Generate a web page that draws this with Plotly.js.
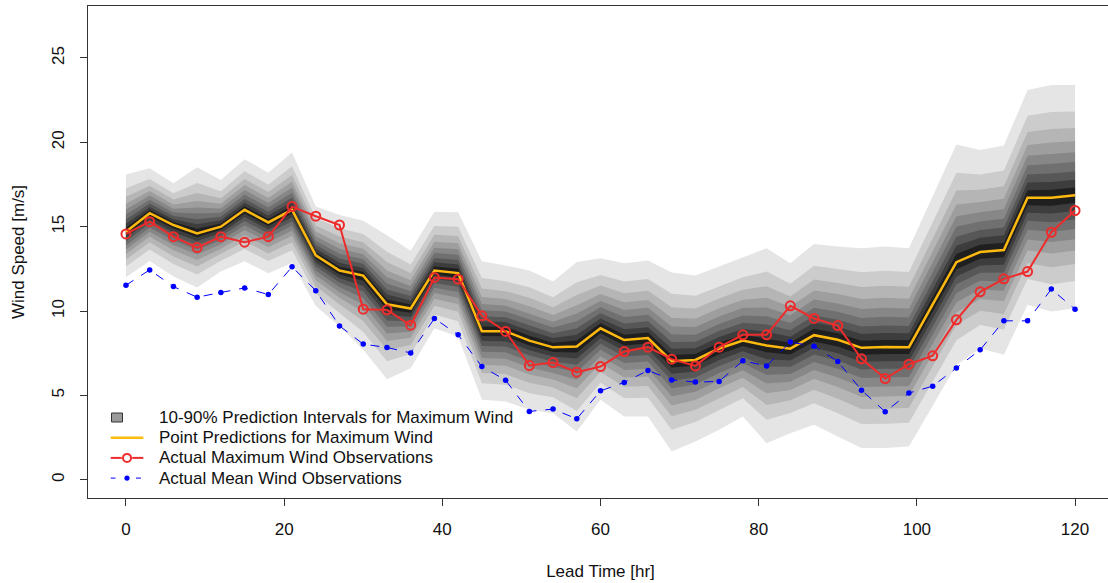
<!DOCTYPE html>
<html><head><meta charset="utf-8">
<script src="https://cdn.plot.ly/plotly-3.0.1.min.js"></script>
<style>html,body{margin:0;padding:0;overflow:hidden;background:#fff}#chart{width:1114px;height:583px}</style>
</head><body><div id="chart"></div>
<script>
// Lead time [hr]
const leadTime = [0,3,6,9,12,15,18,21,24,27,30,33,36,39,42,45,48,51,54,57,60,63,66,69,72,75,78,81,84,87,90,93,96,99,102,105,108,111,114,117,120];
// Point predictions for maximum wind [m/s]
const pointPred = [14.7,15.8,15.1,14.6,15.0,16.0,15.25,16.0,13.3,12.4,12.1,10.4,10.15,12.4,12.25,8.8,8.8,8.25,7.85,7.9,8.98,8.28,8.4,7.03,7.1,7.78,8.25,7.96,7.77,8.57,8.3,7.82,7.87,7.86,10.4,12.9,13.5,13.62,16.72,16.72,16.87];
// 90% quantile (upper edge of prediction interval)
const q90 = [18.1,18.47,17.58,18.53,17.77,19.0,18.2,19.39,16.2,15.7,15.35,14.5,13.58,15.88,15.86,12.95,12.7,12.4,11.75,12.9,13.13,12.84,13.0,12.28,12.1,12.64,13.19,13.72,12.84,13.98,13.82,13.72,13.82,13.72,16.8,19.87,19.55,19.81,23.1,23.4,23.4];
// 10% quantile (lower edge of prediction interval)
const q10 = [12.0,12.97,12.05,11.4,12.34,12.95,12.24,12.85,10.3,9.1,7.7,5.96,6.61,8.98,8.49,4.74,4.64,4.15,3.95,2.86,4.74,3.75,3.75,1.68,2.27,2.96,3.75,2.17,2.76,3.26,2.57,1.88,1.88,1.97,4.4,6.81,7.8,7.41,10.37,9.97,10.17];
// Actual maximum wind observations
const maxObs = [14.57,15.3,14.41,13.76,14.41,14.08,14.41,16.19,15.62,15.1,10.11,10.07,9.16,11.99,11.89,9.72,8.79,6.77,6.95,6.38,6.71,7.6,7.86,7.15,6.75,7.86,8.59,8.59,10.31,9.56,9.14,7.17,6.0,6.85,7.35,9.48,11.14,11.91,12.34,14.67,15.96];
// Actual mean wind observations
const meanObs = [11.53,12.44,11.45,10.82,11.1,11.37,10.98,12.62,11.21,9.12,8.04,7.84,7.52,9.56,8.59,6.71,5.9,4.05,4.19,3.61,5.27,5.77,6.48,5.92,5.79,5.83,7.05,6.75,8.16,7.92,7.01,5.31,4.03,5.14,5.55,6.62,7.7,9.42,9.42,11.3,10.11];
// relative position of each nested interval edge (outer = 10-90%), read from the shading
const bandLevels = [1, 0.76, 0.61, 0.49, 0.39, 0.30, 0.215, 0.14, 0.07];
const bandColors = ['#e5e5e5','#cccccc','#b5b5b5','#9e9e9e','#878787','#707070','#575757','#3d3d3d','#1f1f1f'];
// legend labels
const legendLabels = ['10-90% Prediction Intervals for Maximum Wind','Point Predictions for Maximum Wind','Actual Maximum Wind Observations','Actual Mean Wind Observations'];

const FONT = 'Liberation Sans, Arial, Helvetica, sans-serif';
const FS = 17;
const TXT = '#111111';
const W = 1114, H = 583, ML = 88, MR = 1, MT = 6, MB = 85;
const PW = W - ML - MR, PH = H - MT - MB;
const px = v => (v - ML) / PW;           // pixel -> paper x
const py = v => (H - MB - v) / PH;        // pixel -> paper y

const RED = '#EE2C2C', ORANGE = '#FFB90F', BLUE = '#0000FF';

const traces = [];
const xPoly = leadTime.concat(leadTime.slice().reverse());
bandLevels.forEach((lv, k) => {
  const up = pointPred.map((p, i) => p + lv * (q90[i] - p));
  const lo = pointPred.map((p, i) => p - lv * (p - q10[i]));
  traces.push({
    x: xPoly, y: up.concat(lo.slice().reverse()),
    type: 'scatter', mode: 'lines', fill: 'toself',
    fillcolor: bandColors[k], line: {width: 0, color: bandColors[k]},
    hoverinfo: 'skip', showlegend: false, name: 'band' + k
  });
});
traces.push({
  x: leadTime, y: pointPred, type: 'scatter', mode: 'lines',
  name: legendLabels[1], showlegend: false,
  line: {color: ORANGE, width: 2.5}
});
traces.push({
  x: leadTime, y: maxObs, type: 'scatter', mode: 'lines+markers',
  name: legendLabels[2], showlegend: false,
  line: {color: RED, width: 2},
  marker: {symbol: 'circle-open', size: 9, color: RED, line: {width: 2, color: RED}}
});
traces.push({
  x: leadTime, y: meanObs, type: 'scatter', mode: 'lines+markers',
  name: legendLabels[3], showlegend: false,
  line: {color: BLUE, width: 1, dash: 'dash'},
  marker: {symbol: 'circle', size: 5.5, color: BLUE}
});

// hand-drawn legend (R style) in the lower-left corner
const rowY = [417.5, 437.7, 457.9, 478.1];
const shapes = [];
const annotations = [];
const ln = (x0, x1, y, color, width, dash) => shapes.push({type: 'line', xref: 'paper', yref: 'paper',
  x0: px(x0), x1: px(x1), y0: py(y), y1: py(y), line: {color, width, dash: dash || 'solid'}});
const circ = (cx, cy, r, lineColor, lw, fill) => shapes.push({type: 'circle', xref: 'paper', yref: 'paper',
  x0: px(cx - r), x1: px(cx + r), y0: py(cy + r), y1: py(cy - r),
  line: {color: lineColor, width: lw}, fillcolor: fill});
shapes.push({type: 'rect', xref: 'paper', yref: 'paper',
  x0: px(111.5), x1: px(122.5), y0: py(rowY[0] + 4.5), y1: py(rowY[0] - 4.5),
  line: {color: '#333333', width: 1}, fillcolor: '#9a9a9a'});
ln(110.7, 143.3, rowY[1], ORANGE, 2.5);
ln(110.7, 121.8, rowY[2], RED, 2);
ln(132.2, 143.3, rowY[2], RED, 2);
circ(127, rowY[2], 4, RED, 2, 'rgba(0,0,0,0)');
ln(110.7, 115.5, rowY[3], BLUE, 1);
ln(136.0, 141.0, rowY[3], BLUE, 1);
circ(127, rowY[3], 2.6, BLUE, 0, BLUE);
legendLabels.forEach((t, i) => annotations.push({
  text: t, xref: 'paper', yref: 'paper', x: px(157), y: py(rowY[i]),
  xanchor: 'left', yanchor: 'middle', showarrow: false,
  font: {family: FONT, size: FS, color: TXT}
}));

const layout = {
  width: W, height: H,
  margin: {l: ML, r: MR, t: MT, b: MB, pad: 0},
  paper_bgcolor: '#ffffff', plot_bgcolor: '#ffffff',
  font: {family: FONT, size: FS, color: TXT},
  showlegend: false,
  xaxis: {
    range: [-4.8, 124.8], tickvals: [0,20,40,60,80,100,120],
    showgrid: false, zeroline: false,
    showline: true, mirror: true, linecolor: '#333333', linewidth: 1,
    ticks: 'outside', ticklen: 7, tickcolor: '#333333', tickwidth: 1,
    ticklabelstandoff: 9,
    tickfont: {family: FONT, size: FS, color: TXT},
    title: {text: 'Lead Time [hr]', font: {family: FONT, size: FS, color: TXT}, standoff: 26}
  },
  yaxis: {
    range: [-1.08, 28.08], tickvals: [0,5,10,15,20,25],
    showgrid: false, zeroline: false,
    showline: true, mirror: true, linecolor: '#333333', linewidth: 1,
    ticks: 'outside', ticklen: 7, tickcolor: '#333333', tickwidth: 1,
    tickangle: -90, ticklabelstandoff: 9,
    tickfont: {family: FONT, size: FS, color: TXT},
    title: {text: 'Wind Speed [m/s]', font: {family: FONT, size: FS, color: TXT}, standoff: 20}
  },
  shapes, annotations
};

Plotly.newPlot('chart', traces, layout, {displayModeBar: false, staticPlot: true});
</script>
</body></html>
